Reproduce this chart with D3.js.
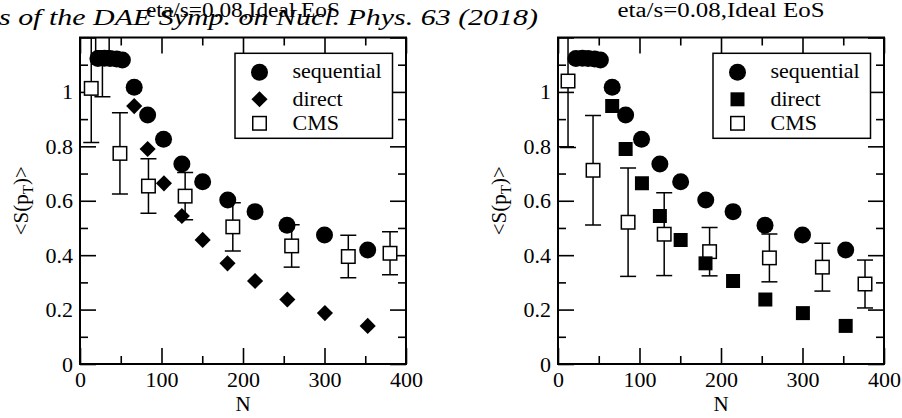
<!DOCTYPE html>
<html><head><meta charset="utf-8">
<script src="https://cdn.jsdelivr.net/npm/d3@7"></script>
<style>
html,body{margin:0;padding:0;background:#fff;}
svg{display:block;}
svg text{font-family:"Liberation Serif","Times New Roman",Times,"DejaVu Serif",serif !important;}
</style></head>
<body>
<svg id="chart" width="902" height="418"></svg>
<script>
// ---- data ----
const seqN = [22, 30, 37, 45, 52, 66.5, 83, 102.5, 125, 150.5, 181.3, 214.8, 254, 300, 353];
const seqV = [1.123, 1.124, 1.123, 1.121, 1.117, 1.017, 0.915, 0.826, 0.735, 0.670, 0.603, 0.560, 0.510, 0.474, 0.419];
const dirN = [66.5, 83, 103, 125, 150.5, 181, 214.8, 254.4, 300.5, 353];
const dirV = [0.948, 0.790, 0.664, 0.544, 0.456, 0.370, 0.305, 0.237, 0.187, 0.140];
const cmsLeftN = [13.8, 27.5, 49, 84, 129, 187.5, 259.7, 329.2, 380.4];
const cmsLeftV = [1.013, 1.176, 0.774, 0.654, 0.617, 0.504, 0.434, 0.395, 0.407];
const cmsLeftE = [0.199, 0.194, 0.149, 0.100, 0.087, 0.089, 0.078, 0.078, 0.079];
const cmsRightN = [12.3, 43, 86, 130.3, 186, 259.4, 324.4, 376.7];
const cmsRightV = [1.040, 0.712, 0.521, 0.477, 0.413, 0.390, 0.356, 0.294];
const cmsRightE = [0.244, 0.201, 0.199, 0.152, 0.089, 0.088, 0.088, 0.088];
const xMajor = [0, 100, 200, 300, 400];
const xMinor = [50, 150, 250, 350];
const yMajor = [0, 0.2, 0.4, 0.6, 0.8, 1.0, 1.2];
const yMinor = [0.1, 0.3, 0.5, 0.7, 0.9, 1.1];
const legendLabels = ["sequential", "direct", "CMS"];
const titleText = "eta/s=0.08,Ideal EoS";
const headerText = "s of the DAE Symp. on Nucl. Phys. 63 (2018)";

const FONT = '"Liberation Serif","Times New Roman",Times,"DejaVu Serif",serif';
const svg = d3.select("#chart");

const panels = [
  {x0: 80, x1: 406, cmsN: cmsLeftN, cmsV: cmsLeftV, cmsE: cmsLeftE, dirShape: "diamond", titleLen: 194, id: "L"},
  {x0: 558, x1: 884, cmsN: cmsRightN, cmsV: cmsRightV, cmsE: cmsRightE, dirShape: "square", titleLen: 207, id: "R"}
];
const yTop = 37.5, yBot = 364;

panels.forEach(p => {
  const x = d3.scaleLinear().domain([0, 400]).range([p.x0, p.x1]);
  const y = d3.scaleLinear().domain([0, 1.2]).range([yBot, yTop]);
  const g = svg.append("g");

  svg.append("clipPath").attr("id", "clip" + p.id)
    .append("rect").attr("x", p.x0).attr("y", yTop).attr("width", p.x1 - p.x0).attr("height", yBot - yTop);

  const styleAxis = sel => {
    sel.attr("font-family", FONT);
    sel.select(".domain").remove();
    sel.selectAll(".tick line").attr("stroke", "#000").attr("stroke-width", 1.6);
    sel.selectAll(".tick text").attr("fill", "#000").attr("font-size", 22).attr("font-family", FONT);
  };

  // bottom
  g.append("g").attr("transform", `translate(0,${yBot})`)
    .call(d3.axisBottom(x).tickValues(xMajor).tickSize(-16).tickPadding(7).tickFormat(d3.format("d"))).call(styleAxis);
  g.append("g").attr("transform", `translate(0,${yBot})`)
    .call(d3.axisBottom(x).tickValues(xMinor).tickSize(-8).tickFormat("")).call(styleAxis);
  // top
  g.append("g").attr("transform", `translate(0,${yTop})`)
    .call(d3.axisTop(x).tickValues(xMajor).tickSize(-16).tickFormat("")).call(styleAxis);
  g.append("g").attr("transform", `translate(0,${yTop})`)
    .call(d3.axisTop(x).tickValues(xMinor).tickSize(-8).tickFormat("")).call(styleAxis);
  // left
  g.append("g").attr("transform", `translate(${p.x0},0)`)
    .call(d3.axisLeft(y).tickValues(yMajor).tickSize(-16).tickPadding(7)
      .tickFormat(d => d > 1.1 ? "" : String(+d.toFixed(1)))).call(styleAxis);
  g.append("g").attr("transform", `translate(${p.x0},0)`)
    .call(d3.axisLeft(y).tickValues(yMinor).tickSize(-8).tickFormat("")).call(styleAxis);
  // right
  g.append("g").attr("transform", `translate(${p.x1},0)`)
    .call(d3.axisRight(y).tickValues(yMajor).tickSize(-16).tickFormat("")).call(styleAxis);
  g.append("g").attr("transform", `translate(${p.x1},0)`)
    .call(d3.axisRight(y).tickValues(yMinor).tickSize(-8).tickFormat("")).call(styleAxis);

  const data = g.append("g").attr("clip-path", `url(#clip${p.id})`);

  // CMS error bars
  const cms = p.cmsN.map((n, i) => ({n, v: p.cmsV[i], e: p.cmsE[i]}));
  const capW = 8;
  const eb = data.append("g").attr("stroke", "#000").attr("stroke-width", 1.5);
  cms.forEach(d => {
    eb.append("line").attr("x1", x(d.n)).attr("x2", x(d.n)).attr("y1", y(d.v - d.e)).attr("y2", y(d.v + d.e));
    eb.append("line").attr("x1", x(d.n) - capW).attr("x2", x(d.n) + capW).attr("y1", y(d.v - d.e)).attr("y2", y(d.v - d.e));
    eb.append("line").attr("x1", x(d.n) - capW).attr("x2", x(d.n) + capW).attr("y1", y(d.v + d.e)).attr("y2", y(d.v + d.e));
  });
  const sq = 13.5;
  data.append("g").selectAll("rect").data(cms).join("rect")
    .attr("x", d => x(d.n) - sq / 2).attr("y", d => y(d.v) - sq / 2)
    .attr("width", sq).attr("height", sq)
    .attr("fill", "#fff").attr("stroke", "#000").attr("stroke-width", 1.5);

  // direct
  const dirSym = p.dirShape === "diamond"
    ? d3.symbol(d3.symbolSquare, 130)
    : d3.symbol(d3.symbolSquare, 196);
  data.append("g").selectAll("path").data(dirN.map((n, i) => ({n, v: dirV[i]}))).join("path")
    .attr("d", dirSym)
    .attr("transform", d => `translate(${x(d.n)},${y(d.v)})` + (p.dirShape === "diamond" ? " rotate(45)" : ""))
    .attr("fill", "#000");

  // sequential
  data.append("g").selectAll("circle").data(seqN.map((n, i) => ({n, v: seqV[i]}))).join("circle")
    .attr("cx", d => x(d.n)).attr("cy", d => y(d.v)).attr("r", 8.5).attr("fill", "#000");

  // frame
  g.append("rect").attr("x", p.x0).attr("y", yTop).attr("width", p.x1 - p.x0).attr("height", yBot - yTop)
    .attr("fill", "none").attr("stroke", "#000").attr("stroke-width", 2);

  // legend
  const lx = p.x0 + 155, ly = 53.3;
  const lg = g.append("g").attr("transform", `translate(${lx},${ly})`);
  lg.append("rect").attr("width", 157.5).attr("height", 85).attr("fill", "#fff")
    .attr("stroke", "#000").attr("stroke-width", 1.5);
  const symY = [19, 46, 70], txtY = [25, 53, 76.5];
  lg.append("circle").attr("cx", 24.5).attr("cy", symY[0]).attr("r", 8.5).attr("fill", "#000");
  lg.append("path").attr("d", dirSym)
    .attr("transform", `translate(24.5,${symY[1]})` + (p.dirShape === "diamond" ? " rotate(45)" : ""))
    .attr("fill", "#000");
  lg.append("rect").attr("x", 24.5 - sq / 2).attr("y", symY[2] - sq / 2).attr("width", sq).attr("height", sq)
    .attr("fill", "#fff").attr("stroke", "#000").attr("stroke-width", 1.5);
  legendLabels.forEach((t, i) => {
    lg.append("text").attr("x", 57.5).attr("y", txtY[i]).attr("font-family", FONT).attr("font-size", 22).text(t);
  });

  // axis labels
  g.append("text").attr("x", (p.x0 + p.x1) / 2).attr("y", 411).attr("text-anchor", "middle")
    .attr("font-family", FONT).attr("font-size", 21).text("N");
  const yl = g.append("text").attr("transform", `translate(${p.x0 - 52},${(yTop + yBot) / 2}) rotate(-90)`)
    .attr("text-anchor", "middle").attr("font-family", FONT).attr("font-size", 21);
  yl.append("tspan").text("<S(p");
  yl.append("tspan").attr("dy", 5).attr("font-size", 15).text("T");
  yl.append("tspan").attr("dy", -5).text(")>");

  // title
  g.append("text").attr("x", (p.x0 + p.x1) / 2).attr("y", 17).attr("text-anchor", "middle")
    .attr("font-family", FONT).attr("font-size", 20)
    .attr("textLength", p.titleLen).attr("lengthAdjust", "spacingAndGlyphs")
    .text(titleText);
});

// overlapping header from the source document
svg.append("text").attr("x", -1).attr("y", 25)
  .attr("font-family", FONT).attr("font-size", 23).attr("font-style", "italic")
  .attr("textLength", 539).attr("lengthAdjust", "spacingAndGlyphs")
  .text(headerText);
</script>
</body></html>
